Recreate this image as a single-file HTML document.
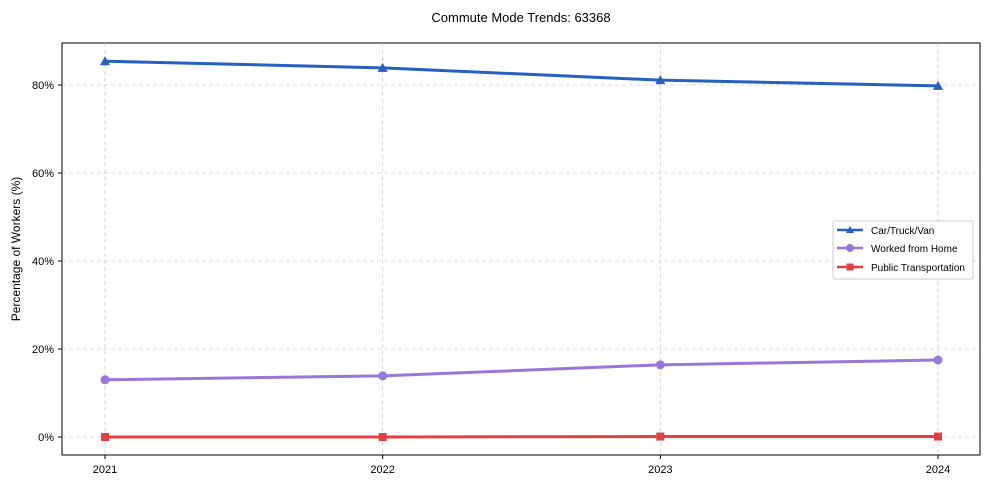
<!DOCTYPE html>
<html><head><meta charset="utf-8"><style>
body{margin:0;background:#fff;font-family:"Liberation Sans",sans-serif;}
svg text{font-family:"Liberation Sans",sans-serif;fill:#000;}
</style></head><body>
<svg id="chart" width="990" height="490" xmlns="http://www.w3.org/2000/svg">
<text x="521" y="22" text-anchor="middle" font-size="13">Commute Mode Trends: 63368</text>
<rect x="62" y="43" width="918" height="412" fill="none" stroke="#000" stroke-width="1"/>
<g id="grid"></g><g id="ticks"></g><g id="series"></g>
<text transform="translate(20,249) rotate(-90)" text-anchor="middle" font-size="12">Percentage of Workers (%)</text>
<g>
<rect x="833" y="221" width="140" height="58" rx="2" fill="#fff" stroke="#ccc"/>
<g><line x1="837" y1="230" x2="863" y2="230" stroke="#2660c0" stroke-width="2.5"/><path d="M850,226 L854,233 L846,233 Z" fill="#2660c0"/><text x="871" y="234" font-size="10">Car/Truck/Van</text></g>
<g><line x1="837" y1="248" x2="863" y2="248" stroke="#9b76d9" stroke-width="2.5"/><circle cx="850" cy="248" r="4" fill="#9b76d9"/><text x="871" y="252" font-size="10">Worked from Home</text></g>
<g><line x1="837" y1="267" x2="863" y2="267" stroke="#e04040" stroke-width="2.5"/><rect x="846.5" y="263.5" width="7" height="7" fill="#e04040"/><text x="871" y="271" font-size="10">Public Transportation</text></g>
</g>
</svg>
<script>
const years=["2021","2022","2023","2024"];
const carValues=[85.4,83.9,81.1,79.8];
const wfhValues=[13.0,13.9,16.4,17.5];
const publicValues=[0.0,0.0,0.1,0.1];
const yTicks=[0,20,40,60,80];
const NS="http://www.w3.org/2000/svg";
const xS=i=>105+i*(938-105)/(years.length-1);
const yS=v=>437-4.4*v;
function mk(tag,attrs,parent){const e=document.createElementNS(NS,tag);for(const k in attrs)e.setAttribute(k,attrs[k]);parent.appendChild(e);return e;}
const grid=document.getElementById('grid'),ticks=document.getElementById('ticks'),ser=document.getElementById('series');
yTicks.forEach(t=>{
 const g=mk('line',{x1:62,x2:980,y1:yS(t),y2:yS(t),stroke:'#ccc','stroke-dasharray':'4,3','stroke-width':0.8},grid);
 
 
 mk('line',{x1:58,x2:62,y1:yS(t),y2:yS(t),stroke:'#000'},ticks);
 const tx=mk('text',{x:54,y:yS(t)+4,'text-anchor':'end','font-size':11},ticks);tx.textContent=t+'%';
 
 
});
years.forEach((y,i)=>{
 const g=mk('line',{x1:xS(i),x2:xS(i),y1:43,y2:455,stroke:'#ccc','stroke-dasharray':'4,3','stroke-width':0.8},grid);
 
 
 mk('line',{x1:xS(i),x2:xS(i),y1:455,y2:459,stroke:'#000'},ticks);
 const tx=mk('text',{x:xS(i),y:473,'text-anchor':'middle','font-size':11},ticks);tx.textContent=y;
 
 
});
function series(vals,color,marker,name){
 const pts=vals.map((v,i)=>xS(i)+','+yS(v)).join(' ');
 const pl=mk('polyline',{points:pts,fill:'none',stroke:color,'stroke-width':3},ser);
 
 
 vals.forEach((v,i)=>{
  const x=xS(i),y=yS(v);let m;
  if(marker==='tri')m=mk('path',{d:`M${x},${y-5} L${x+5},${y+4} L${x-5},${y+4} Z`,fill:color},ser);
  else if(marker==='circ')m=mk('circle',{cx:x,cy:y,r:4.5,fill:color},ser);
  else m=mk('rect',{x:x-4,y:y-4,width:8,height:8,fill:color},ser);
  
  
 });
}
series(carValues,'#2660c0','tri','car');
series(wfhValues,'#9b76d9','circ','wfh');
series(publicValues,'#e04040','sq','public');
</script>
</body></html>
